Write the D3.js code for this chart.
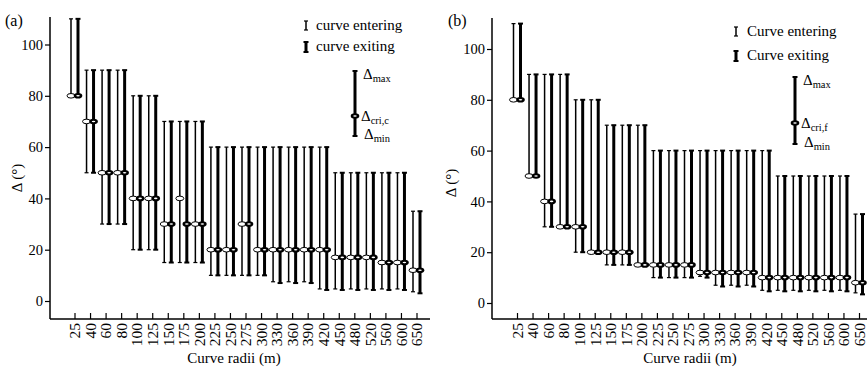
<!DOCTYPE html>
<html>
<head>
<meta charset="utf-8">
<script src="https://cdn.jsdelivr.net/npm/d3@7/dist/d3.min.js"></script>
<style>
  body { margin: 0; background: #fff; }
  svg, svg text { font-family: "Liberation Serif", "Times New Roman", serif; }
</style>
</head>
<body>
<script>
// curve radii (m)
var radii = [25, 40, 60, 80, 100, 125, 150, 175, 200, 225, 250, 275, 300, 330, 360, 390, 420, 450, 480, 520, 560, 600, 650];
var yTicks = [0, 20, 40, 60, 80, 100];

// (a) critical angle, cri,c
var aMax      = [110, 90, 90, 90, 80, 80, 70, 70, 70, 60, 60, 60, 60, 60, 60, 60, 60, 50, 50, 50, 50, 50, 35];
var aEnterCri = [80, 70, 50, 50, 40, 40, 30, 40, 30, 20, 20, 30, 20, 20, 20, 20, 20, 17, 17, 17, 15, 15, 12];
var aExitCri  = [80, 70, 50, 50, 40, 40, 30, 30, 30, 20, 20, 30, 20, 20, 20, 20, 20, 17, 17, 17, 15, 15, 12];
var aEnterMin = [80, 50, 30, 30, 20, 20, 15, 15, 15, 10, 10, 10, 10, 7.5, 7.5, 7.5, 4.7, 4.7, 4.7, 4.7, 4.7, 4.7, 3.6];
var aExitMin  = [80, 50, 30, 30, 20, 20, 15, 15, 15, 10, 10, 10, 10, 7, 7, 7, 4.3, 4.3, 4.3, 4.3, 4.3, 4.3, 3];

// (b) critical angle, cri,f
var bMax      = [110, 90, 90, 90, 80, 80, 70, 70, 70, 60, 60, 60, 60, 60, 60, 60, 60, 50, 50, 50, 50, 50, 35];
var bEnterCri = [80, 50, 40, 30, 30, 20, 20, 20, 15, 15, 15, 15, 12, 12, 12, 12, 10, 10, 10, 10, 10, 10, 8];
var bExitCri  = [80, 50, 40, 30, 30, 20, 20, 20, 15, 15, 15, 15, 12, 12, 12, 12, 10, 10, 10, 10, 10, 10, 8];
var bEnterMin = [80, 50, 30, 30, 20, 20, 15, 15, 15, 10, 10, 10, 10.5, 7, 7, 7, 5, 5, 5, 5, 5, 5, 4];
var bExitMin  = [80, 50, 30, 30, 20, 20, 15, 15, 15, 10, 10, 10, 10, 6.5, 6.5, 6.5, 4.6, 4.6, 4.6, 4.6, 4.6, 4.6, 3.4];

var FONT = "'Liberation Serif', 'Times New Roman', serif";

var svg = d3.select("body").append("svg")
  .attr("width", 867)
  .attr("height", 368)
  .attr("font-family", FONT);

function drawBar(g, x, y1, y2, thick) {
  var w = thick ? 3 : 1.5;
  var cap = thick ? 2.5 : 2;
  g.append("line")
    .attr("x1", x).attr("x2", x)
    .attr("y1", y1).attr("y2", y2)
    .attr("stroke", "#000").attr("stroke-width", w);
  [y1, y2].forEach(function (yy) {
    g.append("line")
      .attr("x1", x - cap).attr("x2", x + cap)
      .attr("y1", yy).attr("y2", yy)
      .attr("stroke", "#000").attr("stroke-width", thick ? 2 : 1.2);
  });
}

function drawMarker(g, x, y, thick) {
  if (thick) {
    g.append("ellipse").attr("cx", x).attr("cy", y).attr("rx", 4.3).attr("ry", 2.8).attr("fill", "#000");
    g.append("ellipse").attr("cx", x).attr("cy", y).attr("rx", 1.8).attr("ry", 0.8).attr("fill", "#fff");
  } else {
    g.append("ellipse").attr("cx", x).attr("cy", y).attr("rx", 4).attr("ry", 2.3)
      .attr("fill", "#fff").attr("stroke", "#000").attr("stroke-width", 1);
  }
}

function deltaLabel(g, x, y, sub) {
  var t = g.append("text").attr("x", x).attr("y", y)
    .style("font-family", FONT).style("font-size", "15px");
  t.append("tspan").text("Δ");
  t.append("tspan").attr("dy", 3).style("font-size", "10.5px").text(sub);
}

function label(g, x, y, size, txt) {
  return g.append("text")
    .attr("x", x).attr("y", y)
    .style("font-family", FONT)
    .style("font-size", size + "px")
    .text(txt);
}

function panel(cfg) {
  var g = svg.append("g");

  var x = d3.scalePoint().domain(radii).range(cfg.xRange);
  var y = d3.scaleLinear().domain([0, 100]).range(cfg.yRange);

  // axes
  var xAxis = d3.axisBottom(x).tickSizeInner(-6).tickSizeOuter(0);
  var gx = g.append("g")
    .attr("transform", "translate(0," + cfg.axisY + ")")
    .call(xAxis);
  gx.select(".domain").remove();
  gx.selectAll(".tick line").attr("stroke-width", 1.2);
  gx.selectAll("text")
    .attr("transform", "rotate(-90)")
    .attr("x", -4).attr("y", 0).attr("dy", "0.34em")
    .style("text-anchor", "end")
    .style("font-family", FONT)
    .style("font-size", "15.5px")
    .attr("fill", "#000");

  var yAxis = d3.axisLeft(y).tickValues(yTicks).tickSize(5).tickPadding(2);
  var gy = g.append("g")
    .attr("transform", "translate(" + cfg.left + ",0)")
    .call(yAxis);
  gy.select(".domain").remove();
  gy.selectAll(".tick line").attr("stroke-width", 1.2);
  gy.selectAll("text")
    .style("font-family", FONT)
    .style("font-size", "14.5px")
    .attr("fill", "#000");

  g.append("line")
    .attr("x1", cfg.left).attr("x2", cfg.left)
    .attr("y1", cfg.yTop).attr("y2", cfg.axisY)
    .attr("stroke", "#000").attr("stroke-width", 1.5);
  g.append("line")
    .attr("x1", cfg.left).attr("x2", cfg.xEnd)
    .attr("y1", cfg.axisY).attr("y2", cfg.axisY)
    .attr("stroke", "#000").attr("stroke-width", 1.5);

  // error bars
  radii.forEach(function (r, i) {
    var cx = x(r);
    drawBar(g, cx - 3.5, y(cfg.max[i]), y(cfg.enterMin[i]), false);
    drawBar(g, cx + 3.5, y(cfg.max[i]), y(cfg.exitMin[i]), true);
  });
  radii.forEach(function (r, i) {
    var cx = x(r);
    drawMarker(g, cx - 3.5, y(cfg.enterCri[i]), false);
    drawMarker(g, cx + 3.5, y(cfg.exitCri[i]), true);
  });

  // titles
  label(g, cfg.letterX, 26, 16, cfg.letter);
  label(g, cfg.xLabelX, 363, 15, "Curve radii (m)").style("text-anchor", "middle");
  g.append("text")
    .attr("transform", "translate(" + cfg.yLabelX + "," + cfg.yLabelY + ") rotate(-90)")
    .style("font-family", FONT)
    .style("font-size", "15px")
    .style("text-anchor", "middle")
    .text("Δ (°)");

  // legend
  var L = cfg.legend;
  drawBar(g, L.x, L.y1 - 5, L.y1 + 4, false);
  drawBar(g, L.x, L.y2 - 5, L.y2 + 5, true);
  label(g, L.tx, L.y1 + 4, 15, cfg.enterText);
  label(g, L.tx, L.y2 + 4, 15, cfg.exitText);

  drawBar(g, L.sx, L.sTop, L.sBot, true);
  drawMarker(g, L.sx, L.sMid, true);
  deltaLabel(g, L.sx + 8, L.sTop + 8, "max");
  deltaLabel(g, L.sx + 6, L.sMid + 5, cfg.criSub);
  deltaLabel(g, L.sx + 9, L.sBot + 3, "min");
}

panel({
  left: 50, xEnd: 430, axisY: 319, yTop: 17,
  xRange: [74.5, 416.5], yRange: [301, 44.5],
  max: aMax, enterCri: aEnterCri, exitCri: aExitCri, enterMin: aEnterMin, exitMin: aExitMin,
  letter: "(a)", letterX: 5, xLabelX: 234, yLabelX: 22, yLabelY: 178,
  enterText: "curve entering", exitText: "curve exiting", criSub: "cri,c",
  legend: { x: 306, tx: 316, y1: 26, y2: 47, sx: 355, sTop: 71, sMid: 116, sBot: 136 }
});

panel({
  left: 492, xEnd: 867, axisY: 319, yTop: 18,
  xRange: [517, 859], yRange: [303, 49],
  max: bMax, enterCri: bEnterCri, exitCri: bExitCri, enterMin: bEnterMin, exitMin: bExitMin,
  letter: "(b)", letterX: 448, xLabelX: 690, yLabelX: 456, yLabelY: 183,
  enterText: "Curve entering", exitText: "Curve exiting", criSub: "cri,f",
  legend: { x: 736, tx: 747, y1: 32, y2: 56, sx: 795, sTop: 77, sMid: 123, sBot: 144 }
});
</script>
</body>
</html>
